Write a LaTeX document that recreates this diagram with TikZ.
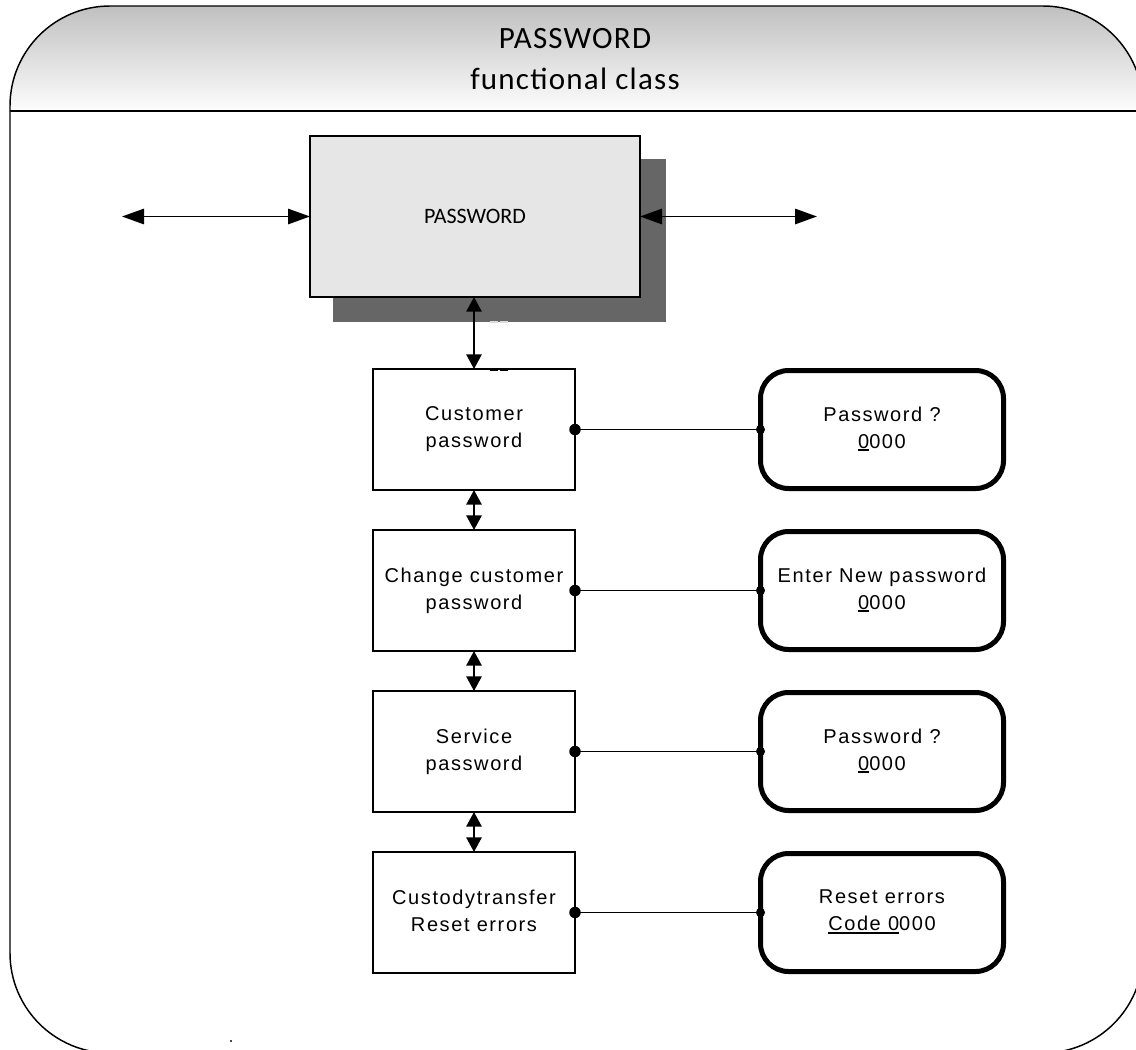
\documentclass[tikz,border=0pt]{standalone}
\usepackage{fontspec}
\setmainfont{Liberation Sans}
\newfontfamily\calib{Carlito}
\newfontfamily\calibsp[LetterSpace=4]{Carlito}
\newfontfamily\arsp[LetterSpace=8]{Liberation Sans}
\usetikzlibrary{arrows.meta}
\definecolor{hdrtop}{RGB}{192,192,192}
\definecolor{hdrbot}{RGB}{253,253,253}
\definecolor{boxfill}{RGB}{230,230,230}
\definecolor{shadowc}{RGB}{102,102,102}
\definecolor{artgray}{RGB}{220,220,220}
\newsavebox{\ulbox}
\newcommand{\ulx}[1]{\sbox{\ulbox}{#1}\rlap{\rule[-2pt]{\wd\ulbox}{1.2pt}}\usebox{\ulbox}}
\newcommand{\firststrut}{\rule{0pt}{15pt}}
\newcommand{\laststrut}{\rule[-3pt]{0pt}{0pt}}
\begin{document}
\begin{tikzpicture}[x=0.75pt,y=-0.75pt,
  stepbox/.style={draw, line width=1pt, minimum width=151.5pt, minimum height=90.75pt,
    align=center, font={\arsp\fontsize{15pt}{20.25pt}\selectfont},
    execute at begin node=\firststrut, execute at end node=\laststrut,
    inner sep=0pt, outer sep=0pt},
  dispbox/.style={draw, line width=3.75pt, rounded corners=21pt, minimum width=182.25pt,
    minimum height=88.5pt, align=center, font={\arsp\fontsize{15pt}{20.25pt}\selectfont},
    execute at begin node=\firststrut, execute at end node=\laststrut,
    inner sep=0pt, outer sep=0pt},
  bigarrow/.style={line width=1.4pt, {Triangle[length=16.5pt,width=11.5pt]}-{Triangle[length=16.5pt,width=11.5pt]}},
  smallarrow/.style={line width=1.4pt, {Triangle[length=11pt,width=11.5pt]}-{Triangle[length=11pt,width=11.5pt]}},
  link/.style={line width=1pt},
  titletext/.style={anchor=base, inner sep=0pt, font={\calibsp\fontsize{23.25pt}{28pt}\selectfont}}
]
\useasboundingbox (0,0) rectangle (1136,1050);
\clip (0,0) rectangle (1136,1050);

% frame and header
\begin{scope}
  \clip[rounded corners=75pt] (10,6) rectangle (1143,1053);
  \shade[top color=hdrtop, bottom color=hdrbot] (10,6) rectangle (1143,111);
\end{scope}
\draw[line width=1.1pt, rounded corners=75pt] (10,6) rectangle (1143,1053);
\draw[line width=1.1pt] (10,111) -- (1143,111);

\node[titletext] (t1) at (575,48) {PASSWORD};
\node[titletext] (t2) at (575,89) {functional class};

% main PASSWORD block
\fill[shadowc] (333,159) rectangle (666,322);
\node[draw, fill=boxfill, line width=1.1pt, minimum width=247.5pt, minimum height=120.75pt,
  inner sep=0pt, outer sep=0pt, font={\calib\fontsize{16.5pt}{20pt}\selectfont}] (pw) at (475,216.5) {PASSWORD};
\fill[artgray] (490,321) rectangle (498,323);
\fill[artgray] (500,321) rectangle (508,323);

\coordinate (lend) at (122,216.5);
\coordinate (rend) at (817,216.5);
\draw[bigarrow] (lend) -- (pw.west);
\draw[bigarrow] (pw.east) -- (rend);

% left step boxes
\node[stepbox] (b1) at (474,429.5) {Customer\\password};
\node[stepbox] (b2) at (474,590.5) {Change customer\\password};
\node[stepbox] (b3) at (474,751.5) {Service\\password};
\node[stepbox] (b4) at (474,912.5) {Custodytransfer\\Reset errors};

\fill (490,367.5) rectangle (498,370.5);
\fill (500,367.5) rectangle (508,370.5);

\draw[smallarrow] (pw.south -| b1.north) -- (b1.north);
\draw[smallarrow] (b1.south) -- (b2.north);
\draw[smallarrow] (b2.south) -- (b3.north);
\draw[smallarrow] (b3.south) -- (b4.north);

% right display boxes
\node[dispbox] (r1) at (882,429.5) {Password ?\\\ulx{0}000};
\node[dispbox] (r2) at (882,590.5) {Enter New password\\\ulx{0}000};
\node[dispbox] (r3) at (882,751.5) {Password ?\\\ulx{0}000};
\node[dispbox] (r4) at (882,912.5) {Reset errors\\\ulx{Code 0}000};

\foreach \i in {1,2,3,4}{
  \draw[link] (b\i.east) -- (r\i.west);
  \fill (b\i.east) circle (4.3pt);
  \fill (r\i.west) circle (3.4pt);
}

\fill[black!70] (230,1040) rectangle (232,1042);
\end{tikzpicture}
\end{document}
